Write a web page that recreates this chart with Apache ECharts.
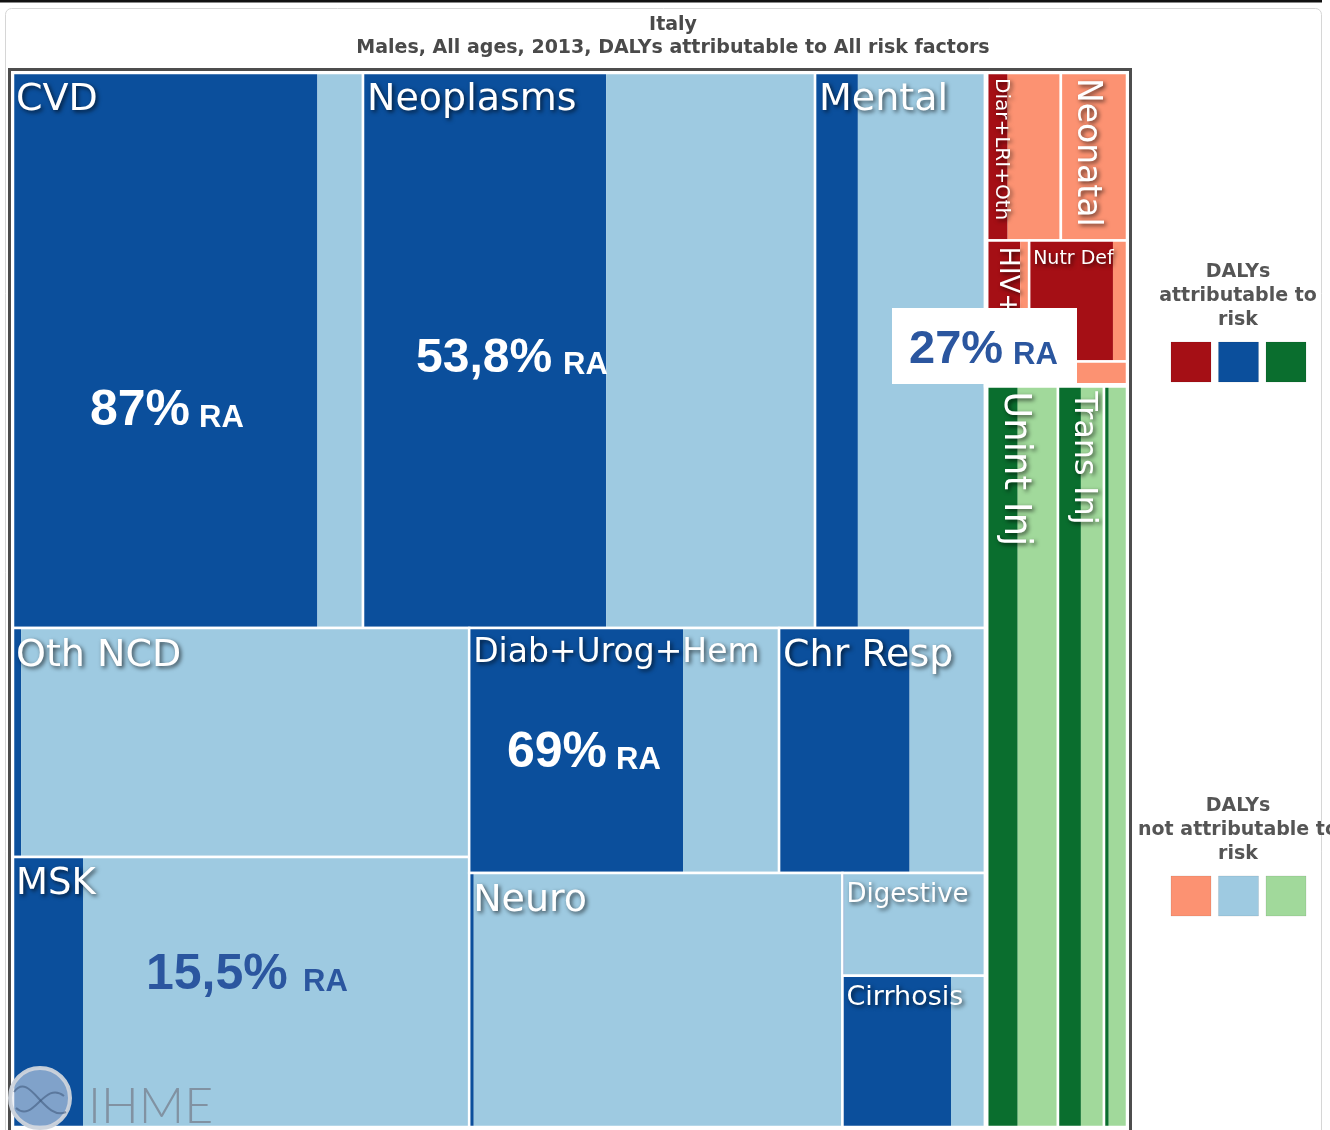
<!DOCTYPE html>
<html>
<head>
<meta charset="utf-8">
<title>Italy - DALYs attributable to risk factors</title>
<script src="https://cdn.jsdelivr.net/npm/echarts@6/dist/echarts.min.js"></script>
<style>
  html, body { margin: 0; padding: 0; background: #fff; }
  #chart { width: 1330px; height: 1130px; }
</style>
</head>
<body>
<div id="chart"></div>
<script>
  // Italy, males, all ages, 2013 - DALYs (thousands) by cause
  var causes = ['CVD', 'Neoplasms', 'Mental', 'Oth NCD', 'MSK', 'Diab+Urog+Hem', 'Chr Resp', 'Neuro', 'Digestive', 'Cirrhosis',
    'Diar+LRI+Oth', 'Neonatal', 'HIV+TB', 'Nutr Def', 'Oth Comm', 'Unint Inj', 'Trans Inj', 'Oth Inj']
  var causeGroup = ['ncd', 'ncd', 'ncd', 'ncd', 'ncd', 'ncd', 'ncd', 'ncd', 'ncd', 'ncd',
    'comm', 'comm', 'comm', 'comm', 'comm', 'inj', 'inj', 'inj']
  var attributable = [1306, 1040, 183, 16, 148, 403, 246, 9, 1.5, 127, 28, 0, 38, 78, 0, 181, 131, 27]
  var notAttributable = [195, 893, 548, 789, 805, 181, 144, 723, 112, 41, 69, 87, 10, 14, 18, 230, 132, 110]

  var groupNames = ['comm', 'ncd', 'inj']
  var annotations = ['87%', '53,8%', '69%', '15,5%', '27%']

  // how the causes are nested: 'h' = side by side, 'v' = stacked
  var layoutTree = ['h',
    ['v',
      ['h', 'CVD', 'Neoplasms', 'Mental'],
      ['h',
        ['v', 'Oth NCD', 'MSK'],
        ['v',
          ['h', 'Diab+Urog+Hem', 'Chr Resp'],
          ['h', 'Neuro', ['v', 'Digestive', 'Cirrhosis']]]]],
    ['v',
      ['v',
        ['h', 'Diar+LRI+Oth', 'Neonatal'],
        ['h', 'HIV+TB', ['v', 'Nutr Def', 'Oth Comm']]],
      ['h', 'Unint Inj', 'Trans Inj', 'Oth Inj']]]

  // styles
  var riskColor = { ncd: '#0b4f9c', comm: '#a50f15', inj: '#0a6e2e' }
  var otherColor = { ncd: '#9ecae1', comm: '#fc9272', inj: '#a1d99b' }
  var labelSize = {
    'CVD': 38, 'Neoplasms': 38, 'Mental': 38, 'Oth NCD': 38, 'MSK': 37, 'Diab+Urog+Hem': 33, 'Chr Resp': 38,
    'Neuro': 38, 'Digestive': 26, 'Cirrhosis': 27, 'Diar+LRI+Oth': 20, 'Neonatal': 33, 'HIV+TB': 27,
    'Nutr Def': 19, 'Unint Inj': 37, 'Trans Inj': 32
  }
  var rotatedLabels = ['Diar+LRI+Oth', 'Neonatal', 'HIV+TB', 'Unint Inj', 'Trans Inj']
  var annoBlue = '#2b569f'

  var chart = echarts.init(document.getElementById('chart'))

  var totals = {}
  causes.forEach(function(c, i) {
    totals[c] = attributable[i] + notAttributable[i]
  })

  function nodeTotal(node) {
    if (typeof node === 'string') return totals[node]
    var s = 0
    for (var k = 1; k < node.length; k++) s += nodeTotal(node[k])
    return s
  }

  // slice and dice layout in a 0..1 box, areas follow the values
  var cells = []
  function sliceDice(node, x0, y0, x1, y1) {
    if (typeof node === 'string') {
      cells.push([x0, y0, x1, y1, causes.indexOf(node)])
      return
    }
    var sum = nodeTotal(node)
    var acc = 0
    for (var k = 1; k < node.length; k++) {
      var v = nodeTotal(node[k])
      var a = acc / sum
      var b = (acc + v) / sum
      if (node[0] === 'h') {
        sliceDice(node[k], x0 + (x1 - x0) * a, y0, x0 + (x1 - x0) * b, y1)
      } else {
        sliceDice(node[k], x0, y0 + (y1 - y0) * a, x1, y0 + (y1 - y0) * b)
      }
      acc += v
    }
  }
  sliceDice(layoutTree, 0, 0, 1, 1)

  var groupBoxes = groupNames.map(function(g) {
    var box = [1, 1, 0, 0]
    cells.forEach(function(c) {
      if (causeGroup[c[4]] !== g) return
      box[0] = Math.min(box[0], c[0])
      box[1] = Math.min(box[1], c[1])
      box[2] = Math.max(box[2], c[2])
      box[3] = Math.max(box[3], c[3])
    })
    return box
  })

  function renderCell(params, api) {
    var i = api.value(4)
    var p0 = api.coord([api.value(0), api.value(1)])
    var p1 = api.coord([api.value(2), api.value(3)])
    var x = p0[0]
    var y = p0[1]
    var w = p1[0] - p0[0]
    var h = p1[1] - p0[1]
    var g = causeGroup[i]
    var share = attributable[i] / (attributable[i] + notAttributable[i])
    var children = [
      { type: 'rect', shape: { x: x, y: y, width: w * share, height: h }, style: { fill: riskColor[g] } },
      { type: 'rect', shape: { x: x + w * share, y: y, width: w * (1 - share), height: h }, style: { fill: otherColor[g] } },
      { type: 'rect', shape: { x: x, y: y, width: w, height: h }, style: { fill: 'none', stroke: '#fff', lineWidth: 2.5 } }
    ]
    var name = causes[i]
    var fs = labelSize[name]
    if (fs) {
      var rot = rotatedLabels.indexOf(name) >= 0
      children.push({
        type: 'text',
        x: rot ? x + fs * 1.28 : x + 4,
        y: rot ? y + 6 : y + 9,
        rotation: rot ? -Math.PI / 2 : 0,
        style: {
          text: name,
          fill: '#fff',
          fontFamily: 'DejaVu Sans',
          fontSize: fs,
          align: 'left',
          verticalAlign: 'top',
          textShadowColor: 'rgba(0,0,0,0.65)',
          textShadowBlur: 4,
          textShadowOffsetX: 2,
          textShadowOffsetY: 2
        }
      })
    }
    return { type: 'group', children: children }
  }

  function renderGroup(params, api) {
    var p0 = api.coord([api.value(0), api.value(1)])
    var p1 = api.coord([api.value(2), api.value(3)])
    return {
      type: 'rect',
      shape: { x: p0[0], y: p0[1], width: p1[0] - p0[0], height: p1[1] - p0[1] },
      style: { fill: 'none', stroke: '#fff', lineWidth: 4.5 }
    }
  }

  // "xx% RA" call-outs, number and RA on one baseline
  function raNote(text, x, baseline, raX, color, size) {
    return [{
      type: 'text', x: x, y: baseline - 0.35 * size, z: 60,
      style: { text: text, fill: color, fontFamily: '"Liberation Sans", Arial, sans-serif', fontWeight: 'bold', fontSize: size, verticalAlign: 'middle' }
    }, {
      type: 'text', x: raX, y: baseline - 0.35 * 31, z: 60,
      style: { text: 'RA', fill: color, fontFamily: '"Liberation Sans", Arial, sans-serif', fontWeight: 'bold', fontSize: 31, verticalAlign: 'middle' }
    }]
  }

  function legendBlock(lines, top, colors) {
    var els = lines.map(function(t, k) {
      return {
        type: 'text', x: 1238, y: top + k * 24, z: 60,
        style: { text: t, fill: '#555', fontFamily: 'DejaVu Sans', fontWeight: 'bold', fontSize: 19, align: 'center', verticalAlign: 'middle' }
      }
    })
    colors.forEach(function(c, k) {
      els.push({
        type: 'rect', z: 60,
        shape: { x: 1171 + k * 47.5, y: top + 70, width: 40, height: 40 },
        style: { fill: c, stroke: 'rgba(0,0,0,0.08)', lineWidth: 1 }
      })
    })
    return els
  }

  var graphics = [
    { type: 'rect', z: 60, shape: { x: 0, y: 0, width: 1322, height: 2.5 }, style: { fill: '#111' } },
    { type: 'rect', z: 60, shape: { x: 5.5, y: 8.5, width: 1316, height: 1140, r: 6 }, style: { fill: 'none', stroke: '#d6d6d6', lineWidth: 1 } },
    { type: 'text', x: 673, y: 25, z: 60, style: { text: 'Italy', fill: '#4a4a4a', fontFamily: 'DejaVu Sans', fontWeight: 'bold', fontSize: 19, align: 'center', verticalAlign: 'middle' } },
    { type: 'text', x: 673, y: 48, z: 60, style: { text: 'Males, All ages, 2013, DALYs attributable to All risk factors', fill: '#4a4a4a', fontFamily: 'DejaVu Sans', fontWeight: 'bold', fontSize: 19, align: 'center', verticalAlign: 'middle' } },
    { type: 'rect', z: 60, shape: { x: 9.5, y: 69.5, width: 1121, height: 1080 }, style: { fill: 'none', stroke: '#4d4d4d', lineWidth: 3 } },
    // IHME logo
    { type: 'circle', z: 60, shape: { cx: 40, cy: 1098, r: 30 }, style: { fill: 'rgba(225,232,240,0.55)', stroke: 'rgba(205,212,220,0.95)', lineWidth: 4 } },
    { type: 'bezierCurve', z: 61, shape: { x1: 14, y1: 1092, x2: 66, y2: 1112, cpx1: 30, cpy1: 1070, cpx2: 44, cpy2: 1122 }, style: { fill: 'none', stroke: 'rgba(60,85,120,0.55)', lineWidth: 2 } },
    { type: 'bezierCurve', z: 61, shape: { x1: 16, y1: 1108, x2: 64, y2: 1096, cpx1: 34, cpy1: 1124, cpx2: 44, cpy2: 1080 }, style: { fill: 'none', stroke: 'rgba(60,85,120,0.55)', lineWidth: 2 } },
    { type: 'text', x: 88, y: 1107, z: 60, style: { text: 'IHME', fill: 'rgba(125,140,155,0.9)', fontFamily: 'Lato', fontWeight: 300, fontSize: 50, verticalAlign: 'middle' } },
    // white box behind the 27% call-out
    { type: 'rect', z: 59, shape: { x: 892, y: 308, width: 185, height: 76 }, style: { fill: '#fff' } }
  ]
  graphics = graphics
    .concat(raNote(annotations[0], 90, 429, 199, '#fff', 50))
    .concat(raNote(annotations[1], 416, 376, 563, '#fff', 48))
    .concat(raNote(annotations[2], 507, 771, 616, '#fff', 50))
    .concat(raNote(annotations[3], 146, 993, 303, annoBlue, 50))
    .concat(raNote(annotations[4], 909, 366, 1013, annoBlue, 47))
    .concat(legendBlock(['DALYs', 'attributable to', 'risk'], 272, groupNames.map(function(g) { return riskColor[g] })))
    .concat(legendBlock(['DALYs', 'not attributable to', 'risk'], 806, groupNames.map(function(g) { return otherColor[g] })))

  var option = {
    animation: false,
    backgroundColor: '#fff',
    grid: { left: 12, top: 72, right: 202, bottom: 2 },
    xAxis: { type: 'value', min: 0, max: 1, show: false },
    yAxis: { type: 'value', min: 0, max: 1, inverse: true, show: false },
    graphic: graphics,
    series: [{
      type: 'custom',
      silent: true,
      renderItem: renderCell,
      encode: { x: [0, 2], y: [1, 3] },
      data: cells
    }, {
      type: 'custom',
      silent: true,
      renderItem: renderGroup,
      encode: { x: [0, 2], y: [1, 3] },
      data: groupBoxes
    }]
  }
  chart.setOption(option)
</script>
</body>
</html>
